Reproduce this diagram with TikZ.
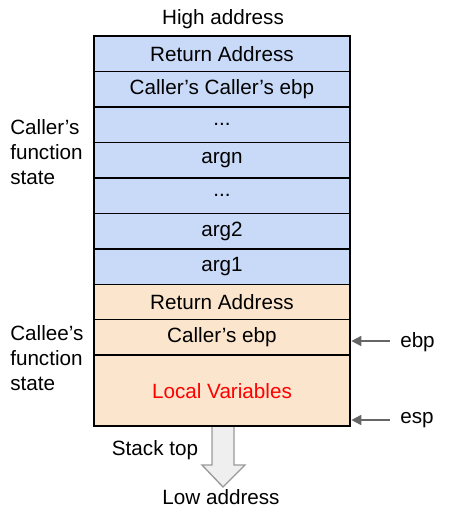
\documentclass[tikz,border=0pt]{standalone}
\usepackage{fontspec}
\setmainfont{Liberation Sans}
\usetikzlibrary{positioning,arrows.meta}
\definecolor{callerblue}{HTML}{C9DAF8}
\definecolor{calleeorange}{HTML}{FCE5CD}
\definecolor{ptrgray}{HTML}{666666}
\definecolor{growgray}{HTML}{EFEFEF}
\definecolor{growline}{HTML}{999999}

\begin{document}
\begin{tikzpicture}[x=0.75pt,y=-0.75pt,
  font=\fontsize{15.5}{18.75}\selectfont,
  slot/.style={draw,line width=1.1pt,outer sep=0pt,inner sep=0pt,
    minimum width=192pt,minimum height=26.6pt},
  caller/.style={slot,fill=callerblue},
  callee/.style={slot,fill=calleeorange},
  lbl/.style={inner sep=0pt,align=left},
  ptr/.style={draw=ptrgray,line width=1.3pt,shorten >=1pt,
    -{Triangle[length=7.5pt,width=7.5pt]}}]
\useasboundingbox (0,0) rectangle (449,512);

% caller frame
\node[caller,anchor=north] (ret1) at (222,36) {Return Address};
\node[caller,below=0pt of ret1] (ccebp) {Caller’s Caller’s ebp};
\node[caller,below=0pt of ccebp] (dots1) {...};
\node[caller,below=0pt of dots1] (argn) {argn};
\node[caller,below=0pt of argn] (dots2) {...};
\node[caller,below=0pt of dots2] (arg2) {arg2};
\node[caller,below=0pt of arg2] (arg1) {arg1};
% callee frame
\node[callee,below=0pt of arg1] (ret2) {Return Address};
\node[callee,below=0pt of ret2] (cebp) {Caller’s ebp};
\node[callee,below=0pt of cebp,minimum height=53.2pt,text=red] (lv) {Local Variables};

\node (high) at (223,19) {High address};
\node[lbl,anchor=west] (callerlbl) at (10,152) {Caller’s\\function\\state};
\node[lbl,anchor=west] (calleelbl) at (10,358) {Callee’s\\function\\state};

% pointers
\coordinate (ebptail) at (390,341);
\coordinate (esptail) at (390,420);
\node[lbl,anchor=west] (ebp) at (400,342) {ebp};
\node[lbl,anchor=west] (esp) at (400,420) {esp};
\draw[ptr] (ebptail) -- (ebptail -| cebp.east);
\draw[ptr] (esptail) -- (esptail -| lv.east);

% growth
\draw[growline,fill=growgray,line width=1pt]
  (212,427) -- (212,465) -- (202,465) -- (223,487) -- (245,465) -- (234,465) -- (234,427);
\node (stacktop) at (155,450) {Stack top};
\node (low) at (221,497) {Low address};
\end{tikzpicture}
\end{document}
